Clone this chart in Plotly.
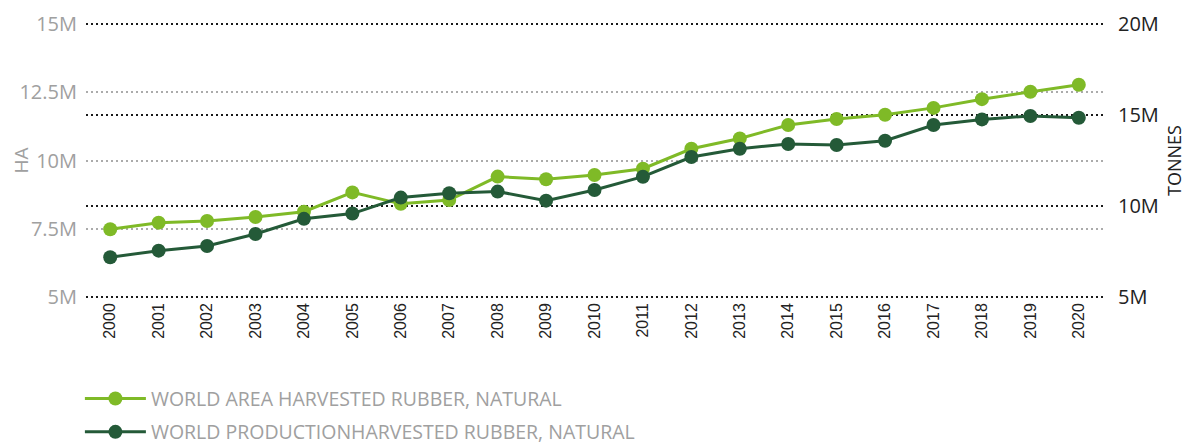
import plotly.graph_objects as go

years = [str(y) for y in range(2000, 2021)]
area_ha = [7.48, 7.72, 7.78, 7.93, 8.12, 8.83, 8.41, 8.55, 9.41, 9.31, 9.47,
           9.70, 10.43, 10.81, 11.30, 11.52, 11.68, 11.93, 12.25, 12.52, 12.78]
prod_t = [7.18, 7.54, 7.80, 8.46, 9.29, 9.58, 10.46, 10.70, 10.79, 10.29, 10.88,
          11.61, 12.69, 13.15, 13.41, 13.35, 13.59, 14.45, 14.76, 14.95, 14.85]
area_ha = [v * 1e6 for v in area_ha]
prod_t = [v * 1e6 for v in prod_t]

left_ticks = [5e6, 7.5e6, 10e6, 12.5e6, 15e6]
left_text = ["5M", "7.5M", "10M", "12.5M", "15M"]
right_ticks = [5e6, 10e6, 15e6, 20e6]
right_text = ["5M", "10M", "15M", "20M"]

LIGHT = "#7FBA27"
DARK = "#245A38"
FONT = "Open Sans"
GRAY = "#A0A0A0"
INK = "#222222"

fig = go.Figure()
fig.add_trace(go.Scatter(
    x=years, y=area_ha, name="WORLD AREA HARVESTED RUBBER, NATURAL",
    legendgroup="a",
    mode="lines+markers", line=dict(color=LIGHT, width=3),
    marker=dict(color=LIGHT, size=14), yaxis="y"))
fig.add_trace(go.Scatter(
    x=years, y=prod_t, name="WORLD PRODUCTIONHARVESTED RUBBER, NATURAL",
    legendgroup="b",
    mode="lines+markers", line=dict(color=DARK, width=3),
    marker=dict(color=DARK, size=14), yaxis="y2"))

# the page body adds an 8px offset, so the figure is drawn 8px smaller
fig.update_layout(
    width=1184, height=437,
    margin=dict(l=78, r=89, t=14, b=146, autoexpand=False),
    paper_bgcolor="white", plot_bgcolor="white",
    font=dict(family=FONT),
    showlegend=True,
    legend=dict(orientation="v", x=-0.006, xanchor="left", y=-0.29, yanchor="top",
                font=dict(size=19.5, color=GRAY, family=FONT),
                traceorder="grouped", tracegroupgap=5, itemwidth=61),
    xaxis=dict(type="category", range=[-0.5, 20.5], showgrid=False, zeroline=False,
               showline=False, tickangle=-90, automargin=False,
               tickfont=dict(size=16, color=INK, family="Liberation Sans, Arial"), ticks=""),
    yaxis=dict(range=[4.92e6, 15.08e6], tickvals=left_ticks, ticktext=left_text,
               showgrid=True, gridcolor="#ABABAB", griddash="2px,3px", gridwidth=2,
               zeroline=False, showline=False, ticks="", automargin=False,
               tickfont=dict(size=20, color=GRAY, family=FONT),
               ticklabelstandoff=8,
               title=dict(text="HA", font=dict(size=19, color=GRAY, family=FONT), standoff=2)),
    yaxis2=dict(range=[4.88e6, 20.12e6], tickvals=right_ticks, ticktext=right_text,
                overlaying="y", side="right", automargin=False,
                showgrid=True, gridcolor="#1A1A1A", griddash="2px,3px", gridwidth=2,
                zeroline=False, showline=False, ticks="",
                tickfont=dict(size=20, color=INK, family=FONT),
                ticklabelstandoff=14,
                title=dict(text="TONNES", font=dict(size=18, color=INK, family=FONT), standoff=10)),
)

fig.write_html("out.html")
